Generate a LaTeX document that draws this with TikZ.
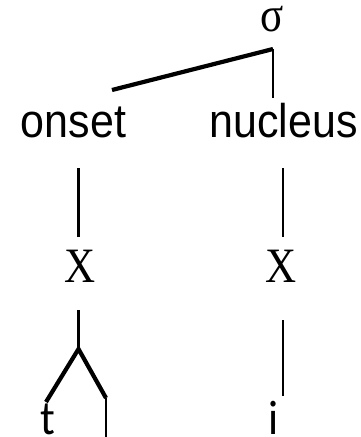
\documentclass[tikz,border=0pt]{standalone}
\usepackage{fontspec}
\setmainfont{Liberation Sans}
\newfontfamily\serifx{Liberation Serif}
\newfontfamily\calib{Carlito}
\begin{document}
\begin{tikzpicture}[x=1pt,y=1pt,
  lbl/.style={inner sep=0pt, anchor=base},
  sanslbl/.style={lbl, font=\fontsize{43}{50}\selectfont},
  seriflbl/.style={lbl, font=\serifx\fontsize{43}{48}\selectfont},
  caliblbl/.style={lbl, font=\calib\fontsize{44}{50}\selectfont},
  thin/.style={line width=2.7pt},
  thick/.style={line width=4.2pt, line join=miter}]
\useasboundingbox (0,0) rectangle (361,-437);
% text
\node[seriflbl] (sigma) at (272,-31) {\scalebox{1}[1.15]{σ}};
\node[sanslbl] (onset) at (73.5,-137) {\scalebox{1}[1.1]{onset}};
\node[sanslbl] (nucleus) at (283.5,-137) {\scalebox{1}[1.1]{nucleus}};
\node[seriflbl] (x1) at (80,-282) {\scalebox{1}[1.15]{X}};
\node[seriflbl] (x2) at (281,-282) {\scalebox{1}[1.15]{X}};
\node[caliblbl] (t) at (47.5,-434) {\scalebox{1}[1.1]{t}};
\node[caliblbl] (i) at (273.5,-434) {\scalebox{1}[1.1]{i}};
% connector end points
\coordinate (sigtop) at (273,-49);
\coordinate (sigL) at (112,-90);
\coordinate (sigR) at (273,-98);
\coordinate (onsetB) at (78.5,-168);
\coordinate (x1T) at (78.5,-237);
\coordinate (nucB) at (283,-168);
\coordinate (x2T) at (283,-237);
\coordinate (x1B) at (78.5,-310);
\coordinate (fork) at (78.5,-349);
\coordinate (tT) at (46,-402);
\coordinate (rT) at (106,-398);
\coordinate (rB) at (106,-440);
\coordinate (x2B) at (283,-320);
\coordinate (iT) at (283,-396);
% connectors
\draw[thick] (sigL) -- (sigtop);
\draw[thin] (sigtop) -- (sigR);
\draw[thin] (onsetB) -- (x1T);
\draw[thin] (nucB) -- (x2T);
\draw[thin] (x1B) -- (fork);
\draw[thick] (tT) -- (fork) -- (rT);
\draw[thin] (rT) -- (rB);
\draw[thin] (x2B) -- (iT);
\end{tikzpicture}
\end{document}
